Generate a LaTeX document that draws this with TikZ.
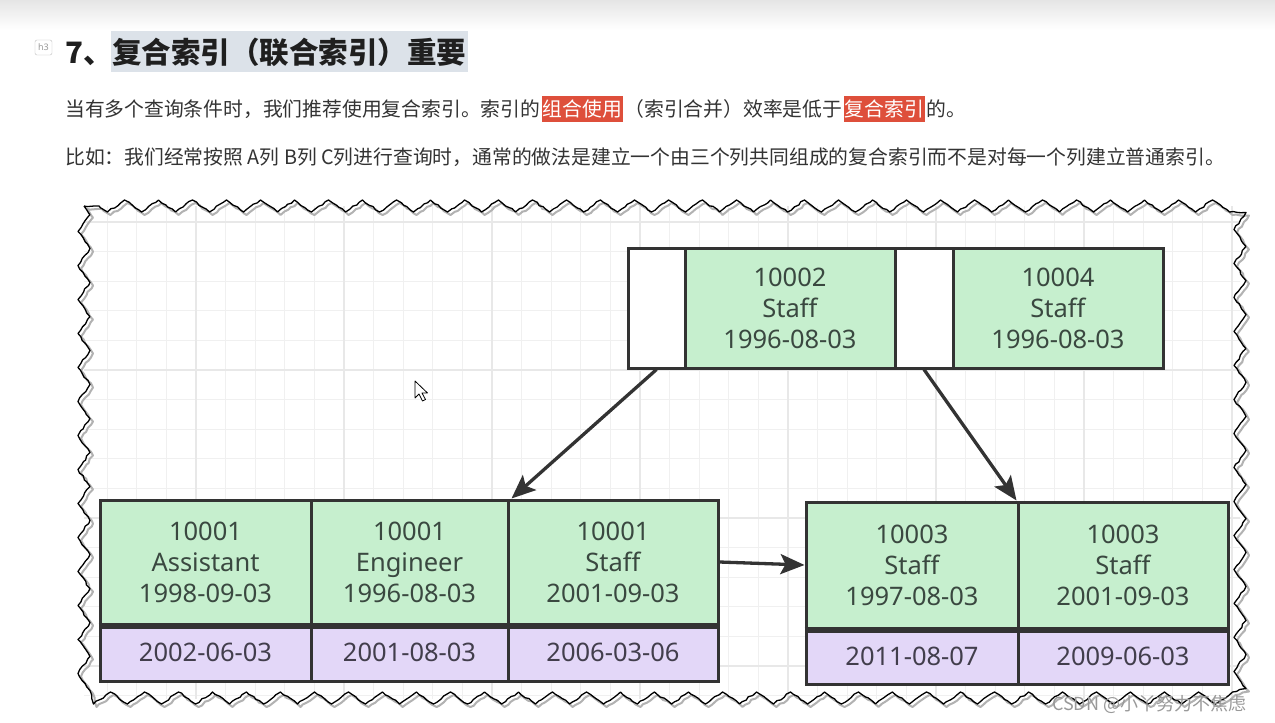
\documentclass[tikz,border=0pt]{standalone}
\usepackage{fontspec}
\setmainfont{Noto Sans}
\newfontfamily\cjk{Noto Sans CJK SC}
\usetikzlibrary{decorations.pathmorphing,arrows.meta}
\definecolor{edge}{HTML}{333333}
\definecolor{gfill}{HTML}{C6EFCE}
\definecolor{pfill}{HTML}{E3D7F8}
\definecolor{gtxt}{HTML}{3A4840}
\definecolor{ptxt}{HTML}{423E4C}
\definecolor{ptext}{HTML}{333333}
\definecolor{hlred}{HTML}{DE4F3B}
\definecolor{hlblue}{HTML}{DCE2E9}
\begin{document}
\begin{tikzpicture}[x=1pt,y=-1pt,
  dfont/.style={font=\fontsize{25.5}{31}\selectfont},
  cellbox/.style={draw=edge, line width=3pt, inner sep=0pt, align=center, dfont},
  gcell/.style={cellbox, fill=gfill, text=gtxt},
  pcell/.style={cellbox, fill=pfill, text=ptxt},
  wcell/.style={cellbox, fill=white},
  para/.style={font=\cjk\fontsize{19.8}{22}\selectfont, text=ptext, inner sep=0pt, anchor=base west},
  hl/.style={para, fill=hlred, text=white, inner xsep=1pt, inner ysep=3.5pt},
  link/.style={draw=edge, line width=3.3pt, -{Stealth[length=24pt,width=20pt,inset=5pt]}},
  gridl/.style={draw=black!6, line width=1pt},
  gridm/.style={draw=black!9, line width=1.4pt}]
\useasboundingbox (0,0) rectangle (1275,723);
\fill[white] (0,0) rectangle (1275,723);
\shade[top color=black!10, bottom color=white] (0,0) rectangle (1275,30);

% heading
\fill[hlblue] (111,31) rectangle (468,72);
\node[draw=black!25, rounded corners=2pt, text=black!40, font=\fontsize{9}{9}\selectfont, minimum width=17pt, minimum height=15pt, inner sep=0pt] (badge) at (43.5,47.5) {h3};
\node[font=\cjk\bfseries\fontsize{29.5}{30}\selectfont, text=black!88, inner sep=0pt, anchor=base west] (t1) at (65,63) {7、};
\node[font=\cjk\bfseries\fontsize{29.5}{30}\selectfont, text=black!88, inner sep=0pt, anchor=base west] (t2) at (112,63) {复合索引（联合索引）重要};

% paragraph 1
\node[para] (p1a) at (65,116.5) {当有多个查询条件时，我们推荐使用复合索引。索引的};
\node[hl, anchor=base west] (p1b) at ([xshift=1pt]p1a.base east) {组合使用};
\node[para] (p1c) at ([xshift=1pt]p1b.base east) {（索引合并）效率是低于};
\node[hl, anchor=base west] (p1d) at ([xshift=1pt]p1c.base east) {复合索引};
\node[para] (p1e) at ([xshift=1pt]p1d.base east) {的。};

% paragraph 2
\node[para] (p2) at (65,164) {比如：我们经常按照 A列 B列 C列进行查询时，通常的做法是建立一个由三个列共同组成的复合索引而不是对每一个列建立普通索引。};

% grid
\begin{scope}
\clip (84,206) rectangle (1240,698);
\foreach \k in {-1,...,40} {
  \draw[gridl] ({107+29.6*\k},200) -- ({107+29.6*\k},705);
}
\foreach \k in {-1,...,17} {
  \draw[gridl] (80,{222+29.6*\k}) -- (1245,{222+29.6*\k});
}
\foreach \k in {-2,3,8,13,18,23,28,33,38} {
  \draw[gridm] ({107+29.6*\k},200) -- ({107+29.6*\k},705);
}
\foreach \k in {0,5,10,15} {
  \draw[gridm] (80,{222+29.6*\k}) -- (1245,{222+29.6*\k});
}
\end{scope}

% torn frame
\pgfmathsetseed{11}
\draw[black!30, line width=2pt, line join=round]
  decorate[decoration={random steps, segment length=4pt, amplitude=0.9pt}]
  {decorate[decoration={zigzag, segment length=34pt, amplitude=6pt}]
  {(87,209) rectangle (1243,701)}};
\pgfmathsetseed{11}
\draw[black, line width=1.3pt, line join=round]
  decorate[decoration={random steps, segment length=4pt, amplitude=0.9pt}]
  {decorate[decoration={zigzag, segment length=34pt, amplitude=6pt}]
  {(84,206) rectangle (1240,698)}};

% top node
\node[wcell, minimum width=57pt, minimum height=120pt] (tw1) at (656.5,308) {};
\node[gcell, minimum width=210pt, minimum height=120pt] (tg1) at (790,308) {10002\\Staff\\1996-08-03};
\node[wcell, minimum width=58pt, minimum height=120pt] (tw2) at (924,308) {};
\node[gcell, minimum width=210pt, minimum height=120pt] (tg2) at (1058,308) {10004\\Staff\\1996-08-03};

% left leaf
\node[gcell, minimum width=211pt, minimum height=124pt] (ga1) at (205.5,562) {10001\\Assistant\\1998-09-03};
\node[gcell, minimum width=197pt, minimum height=124pt] (ga2) at (409.5,562) {10001\\Engineer\\1996-08-03};
\node[gcell, minimum width=210pt, minimum height=124pt] (ga3) at (613,562) {10001\\Staff\\2001-09-03};
\node[pcell, minimum width=211pt, minimum height=57pt] (pa1) at (205.5,652.5) {2002-06-03};
\node[pcell, minimum width=197pt, minimum height=57pt] (pa2) at (409.5,652.5) {2001-08-03};
\node[pcell, minimum width=210pt, minimum height=57pt] (pa3) at (613,652.5) {2006-03-06};
\draw[edge, line width=6pt] (ga1.south west) -- (ga3.south east);

% right leaf
\node[gcell, minimum width=212pt, minimum height=126pt] (gb1) at (912,565) {10003\\Staff\\1997-08-03};
\node[gcell, minimum width=210pt, minimum height=126pt] (gb2) at (1123,565) {10003\\Staff\\2001-09-03};
\node[pcell, minimum width=212pt, minimum height=56pt] (pb1) at (912,656) {2011-08-07};
\node[pcell, minimum width=210pt, minimum height=56pt] (pb2) at (1123,656) {2009-06-03};
\draw[edge, line width=6pt] (gb1.south west) -- (gb2.south east);

% connectors
\draw[link] (tw1.south) -- ([xshift=5pt]ga3.north west);
\draw[link] (tw2.south) -- (gb2.north west);
\draw[link] (ga3.east) -- (gb1.west);

% mouse pointer
\draw[black, fill=white, line width=0.8pt, line join=round]
  (415,381) -- (415,398) -- (419,394) -- (422.5,401) -- (425.5,399.5) -- (422,393) -- (427.5,393) -- cycle;

% watermark
\node[font=\cjk\fontsize{18}{18}\selectfont, text=black!40, inner sep=0pt, anchor=base west] (wm) at (1052,710) {CSDN @小丫努力不焦虑};
\end{tikzpicture}
\end{document}
